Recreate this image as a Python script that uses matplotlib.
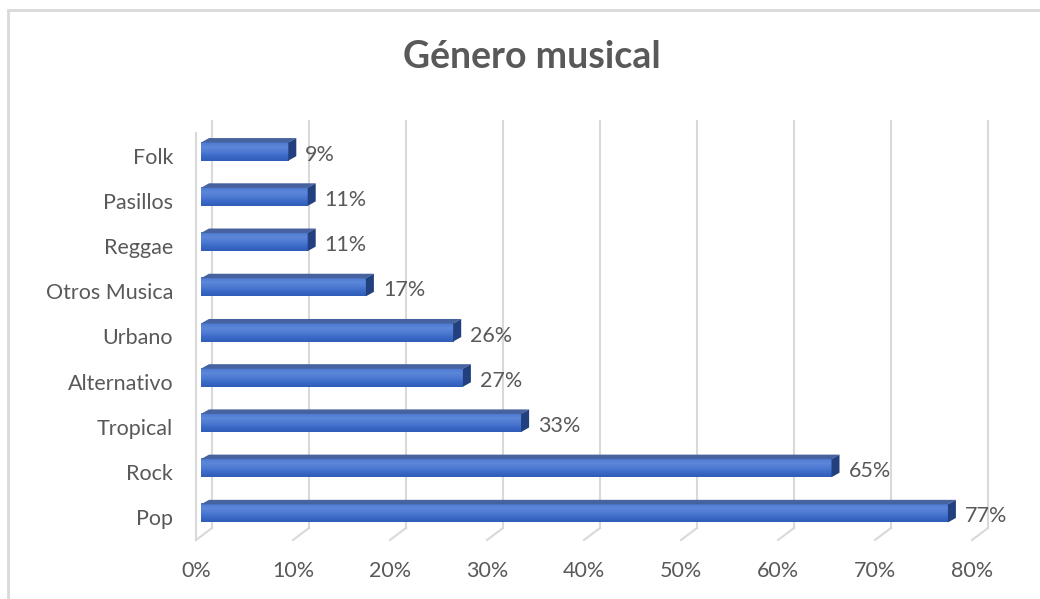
import numpy as np
import matplotlib.pyplot as plt
import matplotlib.transforms as mtrans
from matplotlib.patches import Polygon, Rectangle

generos = ['Pop', 'Rock', 'Tropical', 'Alternativo', 'Urbano', 'Otros Musica',
           'Reggae', 'Pasillos', 'Folk']
porcentajes = [77, 65, 33, 27, 26, 17, 11, 11, 9]
xticks = [0, 10, 20, 30, 40, 50, 60, 70, 80]

plt.rcParams['font.family'] = ['Lato', 'DejaVu Sans']
gris = '#595959'
grid_c = '#d9d9d9'
fs = 15.5

W, H = 1040, 599
fig = plt.figure(figsize=(W / 100, H / 100), dpi=100)
# front plane of the 3d box, in pixels
x0, x1, ybot, ytop = 196, 972, 540, 133
ax = fig.add_axes([x0 / W, (H - ybot) / H, (x1 - x0) / W, (ybot - ytop) / H])
ax.set_xlim(0, 80)
ax.set_ylim(-0.5, len(generos) - 0.5)
for s in ax.spines.values():
    s.set_visible(False)

# back wall offset (pixels) and bar offsets
t_back = mtrans.offset_copy(ax.transData, fig=fig, x=16, y=12, units='dots')
t_bar = mtrans.offset_copy(ax.transData, fig=fig, x=5, y=4, units='dots')
ppx = (x1 - x0) / 80.0
ppy = (ybot - ytop) / len(generos)
ddx, ddy = 8 / ppx, 4.5 / ppy

# gridlines: back vertical + floor diagonal
inv = ax.transData.inverted()
for xv in xticks:
    ax.plot([xv, xv], [-0.5, len(generos) - 0.5], color=grid_c, lw=1.5,
            transform=t_back, clip_on=False, zorder=0)
    bx, by = ax.transData.transform((xv, -0.5))
    p_back = inv.transform((bx + 16, by + 12))
    ax.plot([xv, p_back[0]], [-0.5, p_back[1]], color=grid_c, lw=1.5,
            clip_on=False, zorder=0)
ax.plot([0, 0], [-0.5, len(generos) - 0.5], color=grid_c, lw=1.5,
        clip_on=False, zorder=0)

# bars
h = 0.40
ypos = np.arange(len(generos))
bars = ax.barh(ypos, porcentajes, height=h, color='#3e6cc8', transform=t_bar,
               zorder=3, clip_on=False)
grad = np.linspace(0, 1, 100).reshape(-1, 1)
cmap = plt.matplotlib.colors.LinearSegmentedColormap.from_list(
    'g', ['#2f5cb6', '#3b69c7', '#4f7bd3', '#5c87d9', '#4a77cf'])
lab = mtrans.offset_copy(ax.transData, fig=fig, x=22, y=1, units='dots')
for b, v, yc in zip(bars, porcentajes, ypos):
    im = ax.imshow(grad, extent=[0, v, yc - h / 2, yc + h / 2], origin='lower',
                   cmap=cmap, aspect='auto', transform=t_bar, zorder=3.5,
                   clip_on=False)
    im.set_clip_path(b)
    top = yc + h / 2
    bot = yc - h / 2
    ax.add_patch(Polygon([(0, top), (v, top), (v + ddx, top + ddy), (ddx, top + ddy)],
                         closed=True, fc='#46639f', ec='none', transform=t_bar,
                         zorder=4, clip_on=False))
    ax.add_patch(Polygon([(v, bot), (v, top), (v + ddx, top + ddy), (v + ddx, bot + ddy)],
                         closed=True, fc='#223f7e', ec='none', transform=t_bar,
                         zorder=4, clip_on=False))
    ax.text(v, yc, f'{v}%', transform=lab, ha='left', va='center',
            fontsize=fs, color=gris)

ax.set_xlim(0, 80)
ax.set_ylim(-0.5, len(generos) - 0.5)
ax.set_xticks(xticks)
ax.set_xticklabels([f'{x}%' for x in xticks])
ax.set_yticks(ypos)
ax.set_yticklabels(generos)
ax.tick_params(axis='both', length=0, labelsize=fs, labelcolor=gris)
ax.tick_params(axis='x', pad=15)
ax.tick_params(axis='y', pad=16.5)
ax.patch.set_alpha(0)

fig.text(532 / W, 1 - 57 / H, 'Género musical', ha='center', va='center',
         fontsize=27, fontweight='bold', color=gris)
fig.add_artist(Rectangle((8 / W, -0.1), 1.2, 1.1 - 10 / H, transform=fig.transFigure,
                         fill=False, ec=grid_c, lw=2))

fig.savefig('out.png', dpi=100)
